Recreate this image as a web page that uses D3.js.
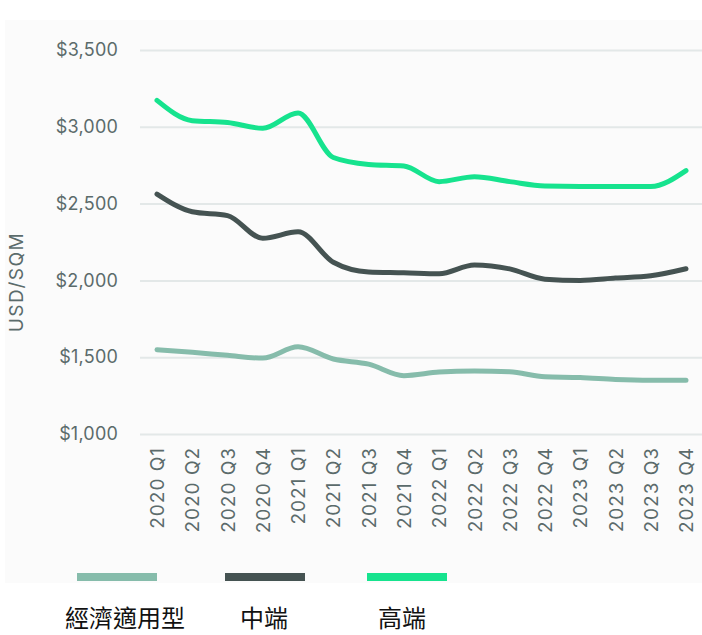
<!DOCTYPE html>
<html>
<head>
<meta charset="utf-8">
<script src="https://cdn.jsdelivr.net/npm/d3@7"></script>
<style>
  body { margin: 0; background: #fff; }
  svg { display: block; }
</style>
</head>
<body>
<div id="chart"></div>
<script>
// quarters on the x axis
var quarters = ["2020 Q1", "2020 Q2", "2020 Q3", "2020 Q4",
                "2021 Q1", "2021 Q2", "2021 Q3", "2021 Q4",
                "2022 Q1", "2022 Q2", "2022 Q3", "2022 Q4",
                "2023 Q1", "2023 Q2", "2023 Q3", "2023 Q4"];

var economy = [1549, 1532, 1512, 1494, 1568, 1488, 1455, 1380,
               1403, 1410, 1405, 1372, 1368, 1355, 1350, 1350];
var midEnd  = [2562, 2447, 2422, 2274, 2316, 2118, 2055, 2050,
               2043, 2100, 2075, 2008, 2000, 2015, 2030, 2076];
var highEnd = [3172, 3040, 3028, 2990, 3090, 2800, 2755, 2745,
               2643, 2675, 2643, 2615, 2612, 2612, 2612, 2715];

var seriesNames = ["經濟適用型", "中端", "高端"];
var yTicks = [1000, 1500, 2000, 2500, 3000, 3500];

var colors = ["#86bcab", "#455352", "#16e38e"];

var width = 702, height = 635;
var svg = d3.select("#chart").append("svg")
    .attr("width", width)
    .attr("height", height);

// faint panel behind the chart
svg.append("rect")
    .attr("x", 5).attr("y", 20)
    .attr("width", width - 5).attr("height", 563)
    .attr("fill", "#fbfbfb");

var x = d3.scalePoint()
    .domain(quarters)
    .range([157, 686]);

var y = d3.scaleLinear()
    .domain([1000, 3500])
    .range([434, 50]);

// grid lines + y labels
var yAxis = svg.append("g")
    .attr("transform", "translate(140,0)")
    .call(d3.axisLeft(y)
        .tickValues(yTicks)
        .tickSize(-(width - 140))
        .tickPadding(22)
        .tickFormat(function(d) { return "$" + d3.format(",")(d); }));
yAxis.select(".domain").remove();
yAxis.selectAll(".tick line")
    .attr("stroke", "#e3e8e8")
    .attr("stroke-width", 2);
yAxis.selectAll(".tick text")
    .attr("fill", "#5b6b6b")
    .style("font-family", "Inter, 'Noto Sans', sans-serif")
    .style("font-size", "18px")
    .style("letter-spacing", "0.2px");

svg.append("text")
    .attr("transform", "translate(23,282) rotate(-90)")
    .attr("text-anchor", "middle")
    .attr("fill", "#5b6b6b")
    .style("font-family", "Inter, 'Noto Sans', sans-serif")
    .style("font-size", "19px")
    .style("letter-spacing", "1.5px")
    .text("USD/SQM");

// x labels, rotated
var xAxis = svg.append("g")
    .attr("transform", "translate(0,434)")
    .call(d3.axisBottom(x).tickSize(0).tickPadding(0));
xAxis.select(".domain").remove();
xAxis.selectAll(".tick text")
    .attr("transform", "translate(0,13) rotate(-90)")
    .attr("text-anchor", "end")
    .attr("dy", "0.35em")
    .attr("x", 0).attr("y", 0)
    .attr("fill", "#5b6b6b")
    .style("font-family", "Inter, 'Noto Sans', sans-serif")
    .style("font-size", "19px")
    .style("letter-spacing", "1px");

// lines
var line = d3.line()
    .x(function(d, i) { return x(quarters[i]); })
    .y(function(d) { return y(d); })
    .curve(d3.curveMonotoneX);

[economy, midEnd, highEnd].forEach(function(s, i) {
    svg.append("path")
        .datum(s)
        .attr("d", line)
        .attr("fill", "none")
        .attr("stroke", colors[i])
        .attr("stroke-width", 5)
        .attr("stroke-linecap", "round")
        .attr("stroke-linejoin", "round");
});

// legend
var legX = [77, 225, 367];
var legTextX = [65, 240, 378];
seriesNames.forEach(function(n, i) {
    svg.append("rect")
        .attr("x", legX[i]).attr("y", 573)
        .attr("width", 80).attr("height", 8)
        .attr("fill", colors[i]);
    svg.append("text")
        .attr("x", legTextX[i]).attr("y", 627)
        .attr("fill", "#111")
        .style("font-family", "'Noto Sans CJK TC', sans-serif")
        .style("font-size", "24px")
        .text(n);
});
</script>
</body>
</html>
